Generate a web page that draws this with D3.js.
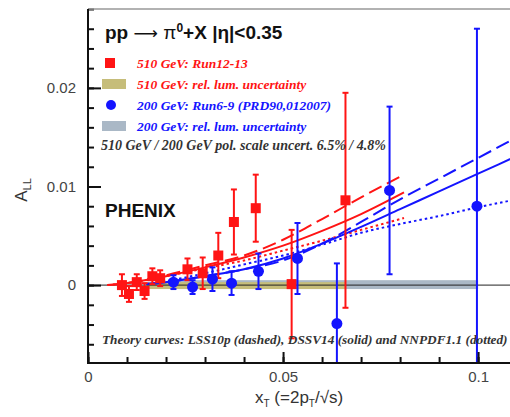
<!DOCTYPE html>
<html>
<head>
<meta charset="utf-8">
<script src="https://cdn.jsdelivr.net/npm/d3@7"></script>
<style>
  body { margin: 0; background: #fff; }
  svg { display: block; }
</style>
</head>
<body>
<div id="svg-container"></div>
<script>
// 510 GeV, Run12-13
const redX = [0.0087, 0.0105, 0.0125, 0.0145, 0.0165, 0.0185, 0.0255, 0.0294, 0.0334, 0.0374, 0.0430, 0.0522, 0.0660];
const redY = [0.0000, -0.0009, 0.0003, -0.0006, 0.0009, 0.0007, 0.0016, 0.0012, 0.0030, 0.0064, 0.0078, 0.0001, 0.0086];
const redErr = [0.0011, 0.0008, 0.0008, 0.0008, 0.0008, 0.0008, 0.0011, 0.0016, 0.0023, 0.0033, 0.0034, 0.0055, 0.0109];

// 200 GeV, Run6-9
const blueX = [0.0219, 0.0268, 0.0319, 0.0368, 0.0437, 0.0537, 0.0638, 0.0773, 0.0997];
const blueY = [0.0003, -0.0002, 0.0006, 0.0002, 0.0014, 0.0027, -0.0039, 0.0096, 0.0080];
const blueErr = [0.0007, 0.0007, 0.0012, 0.0012, 0.0018, 0.0036, 0.0061, 0.0085, 0.0180];

// theory curves
const theoryX510 = [0.005, 0.01, 0.02, 0.03, 0.04, 0.05, 0.06, 0.07, 0.081];
const lss510 = [0.0000, 0.0002, 0.0010, 0.0020, 0.0030, 0.0046, 0.0067, 0.0089, 0.0112];
const dssv510 = [0.0000, 0.0002, 0.0009, 0.0018, 0.0028, 0.0040, 0.0055, 0.0072, 0.0094];
const nnpdf510 = [0.0000, 0.0002, 0.0009, 0.0017, 0.0025, 0.0035, 0.0045, 0.0056, 0.0068];

const theoryX200 = [0.015, 0.02, 0.03, 0.04, 0.05, 0.06, 0.07, 0.08, 0.09, 0.1, 0.11];
const lss200 = [0.0001, 0.0003, 0.0009, 0.0016, 0.0025, 0.0042, 0.0064, 0.0087, 0.0108, 0.0129, 0.0150];
const dssv200 = [0.0001, 0.0003, 0.0009, 0.0016, 0.0027, 0.0042, 0.0059, 0.0077, 0.0095, 0.0113, 0.0131];
const nnpdf200 = [0.0001, 0.0004, 0.0012, 0.0021, 0.0030, 0.0041, 0.0053, 0.0062, 0.0070, 0.0079, 0.0087];

// relative luminosity bands [x0, x1, yLow, yHigh]
const band510 = [0.015, 0.066, -0.0004, 0.0003];
const band200 = [0.022, 0.1, -0.0004, 0.0005];

const xMajorTicks = [0, 0.05, 0.1];
const xMinorTicks = d3.range(0, 0.11, 0.01);
const yMajorTicks = [0, 0.01, 0.02];
const yMinorTicks = d3.range(-0.006, 0.0281, 0.002);

const RED = '#ff1414';
const BLUE = '#1414ff';
const OLIVE = '#c6bd7a';
const GREY = '#aab8c6';
const SANS = '"Liberation Sans", Arial, sans-serif';
const SERIF = '"Liberation Serif", "Times New Roman", serif';

const WIDTH = 510;
const HEIGHT = 417;
const LEFT = 88;
const RIGHT = 514;
const TOP = 9;
const BOTTOM = 363;

const svg = d3.create('svg').attr('width', WIDTH).attr('height', HEIGHT);

const xScale = d3.scaleLinear().domain([0, 0.1092]).range([LEFT, RIGHT]);
const yScale = d3.scaleLinear().domain([-0.0079, 0.028]).range([BOTTOM, TOP]);

svg.append('clipPath').attr('id', 'plot-clip')
  .append('rect')
  .attr('x', LEFT).attr('y', TOP)
  .attr('width', RIGHT - LEFT).attr('height', BOTTOM - TOP);

const plot = svg.append('g').attr('clip-path', 'url(#plot-clip)');

// bands
const drawBand = (b, color) => {
  plot.append('rect')
    .attr('x', xScale(b[0]))
    .attr('y', yScale(b[3]))
    .attr('width', xScale(b[1]) - xScale(b[0]))
    .attr('height', yScale(b[2]) - yScale(b[3]))
    .attr('fill', color);
};
drawBand(band200, GREY);
drawBand(band510, OLIVE);

// zero line
plot.append('line')
  .attr('x1', xScale(0)).attr('x2', RIGHT)
  .attr('y1', yScale(0)).attr('y2', yScale(0))
  .attr('stroke', '#222').attr('stroke-width', 1);

// theory curves
const line = d3.line()
  .x((d) => xScale(d[0]))
  .y((d) => yScale(d[1]))
  .curve(d3.curveMonotoneX);

const curves = [
  [theoryX510, lss510, RED, '14,6'],
  [theoryX510, dssv510, RED, null],
  [theoryX510, nnpdf510, RED, '2.5,3'],
  [theoryX200, lss200, BLUE, '14,6'],
  [theoryX200, dssv200, BLUE, null],
  [theoryX200, nnpdf200, BLUE, '2.5,3'],
];

curves.forEach(([xs, ys, color, dash]) => {
  plot.append('path')
    .datum(xs.map((x, i) => [x, ys[i]]))
    .attr('d', line)
    .attr('fill', 'none')
    .attr('stroke', color)
    .attr('stroke-width', 2)
    .attr('stroke-dasharray', dash);
});

// error bars and markers
const drawSeries = (xs, ys, errs, color, marker) => {
  const data = xs.map((x, i) => ({ x, y: ys[i], e: errs[i] }));
  const g = plot.append('g');

  g.selectAll('line.err')
    .data(data)
    .join('line')
    .attr('class', 'err')
    .attr('x1', (d) => xScale(d.x)).attr('x2', (d) => xScale(d.x))
    .attr('y1', (d) => yScale(d.y - d.e)).attr('y2', (d) => yScale(d.y + d.e))
    .attr('stroke', color).attr('stroke-width', 2);

  [-1, 1].forEach((sign) => {
    g.selectAll(`line.cap${sign}`)
      .data(data)
      .join('line')
      .attr('class', `cap${sign}`)
      .attr('x1', (d) => xScale(d.x) - 3).attr('x2', (d) => xScale(d.x) + 3)
      .attr('y1', (d) => yScale(d.y + sign * d.e)).attr('y2', (d) => yScale(d.y + sign * d.e))
      .attr('stroke', color).attr('stroke-width', 2);
  });

  if (marker === 'square') {
    g.selectAll('rect')
      .data(data)
      .join('rect')
      .attr('x', (d) => xScale(d.x) - 5)
      .attr('y', (d) => yScale(d.y) - 5)
      .attr('width', 10).attr('height', 10)
      .attr('fill', color);
  } else {
    g.selectAll('circle')
      .data(data)
      .join('circle')
      .attr('cx', (d) => xScale(d.x))
      .attr('cy', (d) => yScale(d.y))
      .attr('r', 5.5)
      .attr('fill', color);
  }
};

drawSeries(redX, redY, redErr, RED, 'square');
drawSeries(blueX, blueY, blueErr, BLUE, 'circle');

// axes
const styleAxis = (g) => {
  g.select('.domain').remove();
  g.selectAll('.tick line').attr('stroke', '#111').attr('stroke-width', 2);
  g.selectAll('.tick text')
    .attr('font-family', SANS)
    .attr('font-size', 15)
    .attr('fill', '#444');
};

svg.append('g')
  .attr('transform', `translate(${LEFT}, 0)`)
  .call(d3.axisLeft(yScale).tickValues(yMinorTicks).tickSize(-6).tickFormat(''))
  .call(styleAxis);
svg.append('g')
  .attr('transform', `translate(${LEFT}, 0)`)
  .call(d3.axisLeft(yScale).tickValues(yMajorTicks).tickSize(-13).tickPadding(12)
    .tickFormat((d) => (d === 0 ? '0' : d3.format('.2f')(d))))
  .call(styleAxis);

svg.append('g')
  .attr('transform', `translate(0, ${BOTTOM})`)
  .call(d3.axisBottom(xScale).tickValues(xMinorTicks).tickSize(-6).tickFormat(''))
  .call(styleAxis);
svg.append('g')
  .attr('transform', `translate(0, ${BOTTOM})`)
  .call(d3.axisBottom(xScale).tickValues(xMajorTicks).tickSize(-11).tickPadding(8)
    .tickFormat((d) => (d === 0 ? '0' : d === 0.1 ? '0.1' : '0.05')))
  .call(styleAxis);

// frame
svg.append('line')
  .attr('x1', LEFT).attr('x2', WIDTH).attr('y1', TOP).attr('y2', TOP)
  .attr('stroke', '#999').attr('stroke-width', 1.5);
svg.append('line')
  .attr('x1', LEFT).attr('x2', LEFT).attr('y1', TOP).attr('y2', BOTTOM + 1)
  .attr('stroke', '#111').attr('stroke-width', 2);
svg.append('line')
  .attr('x1', LEFT - 1).attr('x2', WIDTH).attr('y1', BOTTOM).attr('y2', BOTTOM)
  .attr('stroke', '#111').attr('stroke-width', 2);

// axis titles
const yTitle = svg.append('text')
  .attr('transform', 'translate(27, 190) rotate(-90)')
  .attr('text-anchor', 'middle')
  .attr('font-family', SANS)
  .attr('font-size', 17)
  .attr('fill', '#333');
yTitle.append('tspan').text('A');
yTitle.append('tspan').attr('font-size', 11).attr('dy', 4).text('LL');

const xTitle = svg.append('text')
  .attr('x', 255).attr('y', 403)
  .attr('font-family', SANS)
  .attr('font-size', 17)
  .attr('fill', '#333');
xTitle.append('tspan').text('x');
xTitle.append('tspan').attr('font-size', 10).attr('dy', 4).text('T');
xTitle.append('tspan').attr('dy', -4).text(' (=2p');
xTitle.append('tspan').attr('font-size', 10).attr('dy', 4).text('T');
xTitle.append('tspan').attr('dy', -4).text('/√s)');

// title
const title = svg.append('text')
  .attr('x', 105).attr('y', 39)
  .attr('font-family', SANS)
  .attr('font-size', 19)
  .attr('font-weight', 'bold')
  .attr('fill', '#111');
title.append('tspan').text('pp ');
title.append('tspan').attr('font-weight', 'normal').attr('font-family', '"DejaVu Sans", sans-serif')
  .attr('font-size', 17).text('⟶ ');
title.append('tspan').attr('font-weight', 'normal').text('π');
title.append('tspan').attr('font-size', 12).attr('dy', -7).text('0');
title.append('tspan').attr('dy', 7).text('+X  |η|<0.35');

svg.append('text')
  .attr('x', 105).attr('y', 217)
  .attr('font-family', SANS)
  .attr('font-size', 19)
  .attr('font-weight', 'bold')
  .attr('fill', '#111')
  .text('PHENIX');

// legend
const legendText = (x, y, text, color, size) => {
  svg.append('text')
    .attr('x', x).attr('y', y)
    .attr('dy', '0.35em')
    .attr('font-family', SERIF)
    .attr('font-style', 'italic')
    .attr('font-weight', 'bold')
    .attr('font-size', size)
    .attr('fill', color)
    .text(text);
};

svg.append('rect').attr('x', 105).attr('y', 58).attr('width', 10).attr('height', 10).attr('fill', RED);
legendText(137, 63, '510 GeV: Run12-13', RED, 13.5);
svg.append('rect').attr('x', 102).attr('y', 79).attr('width', 24).attr('height', 10).attr('fill', OLIVE);
legendText(137, 84, '510 GeV: rel. lum. uncertainty', RED, 13.5);
svg.append('circle').attr('cx', 111).attr('cy', 105).attr('r', 5).attr('fill', BLUE);
legendText(137, 105, '200 GeV: Run6-9 (PRD90,012007)', BLUE, 13.5);
svg.append('rect').attr('x', 102).attr('y', 121).attr('width', 24).attr('height', 10).attr('fill', GREY);
legendText(137, 126, '200 GeV: rel. lum. uncertainty', BLUE, 13.5);
legendText(101, 145, '510 GeV / 200 GeV pol. scale uncert. 6.5% / 4.8%', '#333', 14);
legendText(102, 339, 'Theory curves: LSS10p (dashed), DSSV14 (solid) and NNPDF1.1 (dotted)', '#333', 13.3);

document.getElementById('svg-container').appendChild(svg.node());
</script>
</body>
</html>
